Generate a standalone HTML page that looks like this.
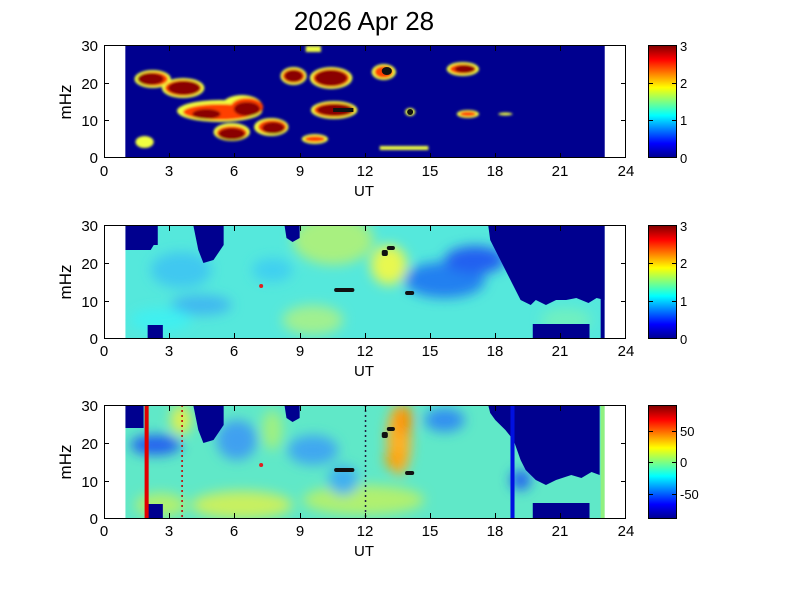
<!DOCTYPE html>
<html><head><meta charset="utf-8"><style>
body{margin:0;background:#fff}
svg{display:block;font-family:"Liberation Sans",sans-serif}
</style></head><body>
<svg width="801" height="600" viewBox="0 0 801 600">
<defs>
<linearGradient id="jet" x1="0" y1="1" x2="0" y2="0">
<stop offset="0" stop-color="#00008f"/><stop offset="0.125" stop-color="#0000ff"/>
<stop offset="0.375" stop-color="#00ffff"/><stop offset="0.625" stop-color="#ffff00"/>
<stop offset="0.875" stop-color="#ff0000"/><stop offset="1" stop-color="#800000"/>
</linearGradient>
<filter id="b1" x="-20%" y="-20%" width="140%" height="140%"><feGaussianBlur stdDeviation="1.2"/></filter>
<filter id="b4" x="-50%" y="-50%" width="200%" height="200%"><feGaussianBlur stdDeviation="6"/></filter>
<clipPath id="c2"><rect x="125" y="225" width="473" height="113"/></clipPath>
<clipPath id="c3"><rect x="125" y="405" width="473" height="113"/></clipPath>
</defs>
<rect width="801" height="600" fill="#fff"/>
<text x="364" y="30" font-size="26" text-anchor="middle">2026 Apr 28</text>

<g transform="translate(100,0) scale(1.0135,1) translate(-100,0)">
<!-- Panel 1 -->
<rect x="125" y="46" width="473" height="112" fill="#00008f"/>
<g filter="url(#b1)">
<g fill="#f0ff40">
<ellipse cx="152" cy="79" rx="18" ry="9"/><ellipse cx="182" cy="88" rx="21" ry="10"/>
<ellipse cx="291" cy="76" rx="13" ry="9"/><ellipse cx="328" cy="78" rx="21" ry="11"/>
<ellipse cx="380" cy="72" rx="12" ry="8"/><ellipse cx="458" cy="69" rx="16" ry="7"/>
<ellipse cx="218" cy="111" rx="42" ry="11"/><ellipse cx="240" cy="106" rx="20" ry="11"/>
<ellipse cx="230" cy="132" rx="18" ry="9"/><ellipse cx="269" cy="127" rx="17" ry="9"/>
<ellipse cx="331" cy="110" rx="23" ry="9"/><ellipse cx="312" cy="139" rx="13" ry="5"/>
<ellipse cx="463" cy="114" rx="11" ry="4"/><ellipse cx="500" cy="114" rx="7" ry="1.5"/>
<rect x="376" y="146" width="48" height="4"/><ellipse cx="144" cy="142" rx="9" ry="6"/>
<rect x="303" y="46" width="15" height="6"/><ellipse cx="406" cy="112" rx="5" ry="4"/>
</g>
<g fill="#ff4000">
<ellipse cx="152" cy="79" rx="15" ry="7"/><ellipse cx="182" cy="88" rx="18" ry="8"/>
<ellipse cx="291" cy="76" rx="11" ry="7"/><ellipse cx="328" cy="78" rx="18" ry="9"/>
<ellipse cx="380" cy="72" rx="9" ry="6"/><ellipse cx="458" cy="69" rx="13" ry="5"/>
<ellipse cx="218" cy="112" rx="36" ry="8"/><ellipse cx="245" cy="107" rx="16" ry="9"/>
<ellipse cx="230" cy="133" rx="15" ry="7"/><ellipse cx="270" cy="127" rx="14" ry="7"/>
<ellipse cx="331" cy="110" rx="20" ry="7"/><ellipse cx="312" cy="139" rx="10" ry="3"/>
<ellipse cx="463" cy="114" rx="8" ry="2.5"/>
</g>
<g fill="#8a0000">
<ellipse cx="150" cy="79" rx="13" ry="6"/><ellipse cx="183" cy="88" rx="16" ry="7"/>
<ellipse cx="291" cy="76" rx="9" ry="6"/><ellipse cx="328" cy="78" rx="16" ry="8"/>
<ellipse cx="460" cy="69" rx="10" ry="4"/><ellipse cx="245" cy="109" rx="13" ry="7"/>
<ellipse cx="230" cy="134" rx="13" ry="6"/><ellipse cx="271" cy="128" rx="11" ry="6"/>
<ellipse cx="332" cy="110" rx="18" ry="6"/><ellipse cx="205" cy="114" rx="14" ry="5"/>
</g>
</g>
<rect x="330" y="108" width="20" height="4" fill="#111"/><ellipse cx="383" cy="71" rx="5" ry="4" fill="#111"/><circle cx="406" cy="112" r="3" fill="#111"/>

<!-- Panel 2 -->
<g clip-path="url(#c2)">
<rect x="125" y="225" width="473" height="113" fill="#55e8dc"/>
<g filter="url(#b4)">
<ellipse cx="180" cy="270" rx="30" ry="18" fill="#40c8f0"/>
<ellipse cx="330" cy="240" rx="40" ry="25" fill="#a8f080"/>
<ellipse cx="385" cy="265" rx="18" ry="20" fill="#e8f850"/>
<ellipse cx="310" cy="320" rx="30" ry="15" fill="#a0f090"/>
<ellipse cx="440" cy="280" rx="40" ry="18" fill="#2080f0"/>
<ellipse cx="470" cy="260" rx="30" ry="14" fill="#2060f0"/>
<ellipse cx="200" cy="305" rx="30" ry="10" fill="#40b8f0"/>
<ellipse cx="560" cy="320" rx="25" ry="12" fill="#70f0c0"/>
<ellipse cx="270" cy="270" rx="20" ry="12" fill="#40d0f0"/>
<ellipse cx="160" cy="320" rx="30" ry="12" fill="#40f0f0"/>
</g>
<g fill="#00008f">
<path d="M125 225H157V245H153L150 250H125Z"/>
<path d="M192 225H222V245L212 260L202 263L197 250Z"/>
<path d="M282 225H297V238L290 242L284 238Z"/>
<path d="M483 225H598V300L590 298L582 303L570 298L560 300L550 300L540 305L530 300L525 305L515 300L510 290L500 270L490 250L485 240Z"/>
<rect x="147" y="325" width="15" height="13"/><rect x="527" y="324" width="56" height="14"/>
<rect x="594" y="225" width="4" height="113"/>
</g>
</g>
<g fill="#111"><rect x="331" y="288" width="20" height="4" rx="2"/><rect x="378" y="250" width="6" height="6" rx="2"/><rect x="383" y="246" width="8" height="4" rx="2"/><rect x="401" y="291" width="9" height="4" rx="2"/></g>
<circle cx="259" cy="286" r="2" fill="#e02020"/>

<!-- Panel 3 -->
<g clip-path="url(#c3)">
<rect x="125" y="405" width="473" height="113" fill="#60e8c8"/>
<g filter="url(#b4)">
<ellipse cx="395" cy="440" rx="12" ry="35" fill="#ffb020"/>
<ellipse cx="400" cy="420" rx="8" ry="15" fill="#ff9000"/>
<ellipse cx="390" cy="460" rx="9" ry="8" fill="#ffa000"/>
<ellipse cx="360" cy="500" rx="60" ry="15" fill="#b0f070"/>
<ellipse cx="240" cy="505" rx="50" ry="14" fill="#c8f060"/>
<ellipse cx="160" cy="505" rx="25" ry="12" fill="#b0f070"/>
<ellipse cx="155" cy="445" rx="25" ry="10" fill="#2060f0"/>
<ellipse cx="235" cy="440" rx="20" ry="20" fill="#40a0f0"/>
<ellipse cx="310" cy="450" rx="25" ry="15" fill="#40a8f0"/>
<ellipse cx="340" cy="480" rx="15" ry="15" fill="#40b0f0"/>
<ellipse cx="270" cy="430" rx="10" ry="20" fill="#a0f080"/>
<ellipse cx="440" cy="420" rx="20" ry="12" fill="#3090f0"/>
<ellipse cx="180" cy="420" rx="10" ry="15" fill="#e0f050"/>
<ellipse cx="515" cy="480" rx="10" ry="10" fill="#2060f0"/>
</g>
<rect x="594" y="405" width="4" height="113" fill="#90f080"/>
<g fill="#00008f">
<path d="M125 405H143V428H125Z"/>
<path d="M192 405H222V425L212 440L202 443L197 430Z"/>
<path d="M282 405H297V418L290 422L284 418Z"/>
<path d="M483 405H593V475L585 472L575 478L565 475L550 480L540 485L530 480L520 470L515 460L508 440L500 430L490 420L485 413Z"/>
<rect x="147" y="504" width="15" height="14"/><rect x="527" y="503" width="56" height="15"/>
</g>
<rect x="144" y="405" width="4" height="113" fill="#e00000"/>
<rect x="505" y="405" width="4" height="113" fill="#0010e0"/>
<line x1="181" y1="405" x2="181" y2="518" stroke="#c00000" stroke-width="1.5" stroke-dasharray="2,3"/>
<line x1="362" y1="405" x2="362" y2="518" stroke="#202040" stroke-width="1.5" stroke-dasharray="2,3"/>
</g>
<g fill="#111"><rect x="331" y="468" width="20" height="4" rx="2"/><rect x="378" y="432" width="6" height="6" rx="2"/><rect x="383" y="427" width="8" height="4" rx="2"/><rect x="401" y="471" width="9" height="4" rx="2"/></g>
<circle cx="259" cy="465" r="2" fill="#e02020"/>
</g>

<!-- axes frames and ticks -->
<g fill="none" stroke="#000" stroke-width="1">
<rect x="104.5" y="45.5" width="521" height="112"/>
<rect x="104.5" y="225.5" width="521" height="113"/>
<rect x="104.5" y="405.5" width="521" height="113"/>
</g>
<g stroke="#000" stroke-width="1">
<path d="M169.5 158v-5M234.5 158v-5M300.5 158v-5M365.5 158v-5M430.5 158v-5M495.5 158v-5M560.5 158v-5
M169.5 46v5M234.5 46v5M300.5 46v5M365.5 46v5M430.5 46v5M495.5 46v5M560.5 46v5
M104 83.5h5M104 120.5h5M626 83.5h-5M626 120.5h-5"/>
<path d="M169.5 338v-5M234.5 338v-5M300.5 338v-5M365.5 338v-5M430.5 338v-5M495.5 338v-5M560.5 338v-5
M169.5 226v5M234.5 226v5M300.5 226v5M365.5 226v5M430.5 226v5M495.5 226v5M560.5 226v5
M104 263.5h5M104 301.5h5M626 263.5h-5M626 301.5h-5"/>
<path d="M169.5 518v-5M234.5 518v-5M300.5 518v-5M365.5 518v-5M430.5 518v-5M495.5 518v-5M560.5 518v-5
M169.5 406v5M234.5 406v5M300.5 406v5M365.5 406v5M430.5 406v5M495.5 406v5M560.5 406v5
M104 443.5h5M104 481.5h5M626 443.5h-5M626 481.5h-5"/>
</g>

<g font-size="15" text-anchor="middle">
<g>
<text x="104" y="176">0</text><text x="169" y="176">3</text><text x="234" y="176">6</text><text x="300" y="176">9</text><text x="365" y="176">12</text><text x="430" y="176">15</text><text x="495" y="176">18</text><text x="560" y="176">21</text><text x="626" y="176">24</text>
<text x="364" y="196">UT</text>
</g>
<g transform="translate(0,180)">
<text x="104" y="176">0</text><text x="169" y="176">3</text><text x="234" y="176">6</text><text x="300" y="176">9</text><text x="365" y="176">12</text><text x="430" y="176">15</text><text x="495" y="176">18</text><text x="560" y="176">21</text><text x="626" y="176">24</text>
<text x="364" y="196">UT</text>
</g>
<g transform="translate(0,360)">
<text x="104" y="176">0</text><text x="169" y="176">3</text><text x="234" y="176">6</text><text x="300" y="176">9</text><text x="365" y="176">12</text><text x="430" y="176">15</text><text x="495" y="176">18</text><text x="560" y="176">21</text><text x="626" y="176">24</text>
<text x="364" y="196">UT</text>
</g>
</g>
<g font-size="15" text-anchor="end">
<text x="98" y="51">30</text><text x="98" y="89">20</text><text x="98" y="126">10</text><text x="98" y="163">0</text>
<text x="98" y="231">30</text><text x="98" y="269">20</text><text x="98" y="307">10</text><text x="98" y="344">0</text>
<text x="98" y="411">30</text><text x="98" y="449">20</text><text x="98" y="487">10</text><text x="98" y="524">0</text>
</g>
<g font-size="17" text-anchor="middle">
<text transform="translate(71,102) rotate(-90)">mHz</text>
<text transform="translate(71,282) rotate(-90)">mHz</text>
<text transform="translate(71,462) rotate(-90)">mHz</text>
</g>

<!-- colorbars -->
<g stroke="#000" stroke-width="1">
<rect x="648.5" y="45.5" width="28" height="112" fill="url(#jet)"/>
<rect x="648.5" y="225.5" width="28" height="113" fill="url(#jet)"/>
<rect x="648.5" y="405.5" width="28" height="113" fill="url(#jet)"/>
<path d="M676 83.5h-4M676 120.5h-4M649 83.5h4M649 120.5h4M676 263.5h-4M676 301.5h-4M649 263.5h4M649 301.5h4M676 431.5h-4M676 462.5h-4M676 494.5h-4M649 431.5h4M649 462.5h4M649 494.5h4"/>
</g>
<g font-size="13">
<text x="680" y="51">3</text><text x="680" y="88">2</text><text x="680" y="125">1</text><text x="680" y="163">0</text>
<text x="680" y="231">3</text><text x="680" y="268">2</text><text x="680" y="306">1</text><text x="680" y="344">0</text>
<text x="680" y="436">50</text><text x="680" y="467">0</text><text x="680" y="499">-50</text>
</g>
</svg>
</body></html>
